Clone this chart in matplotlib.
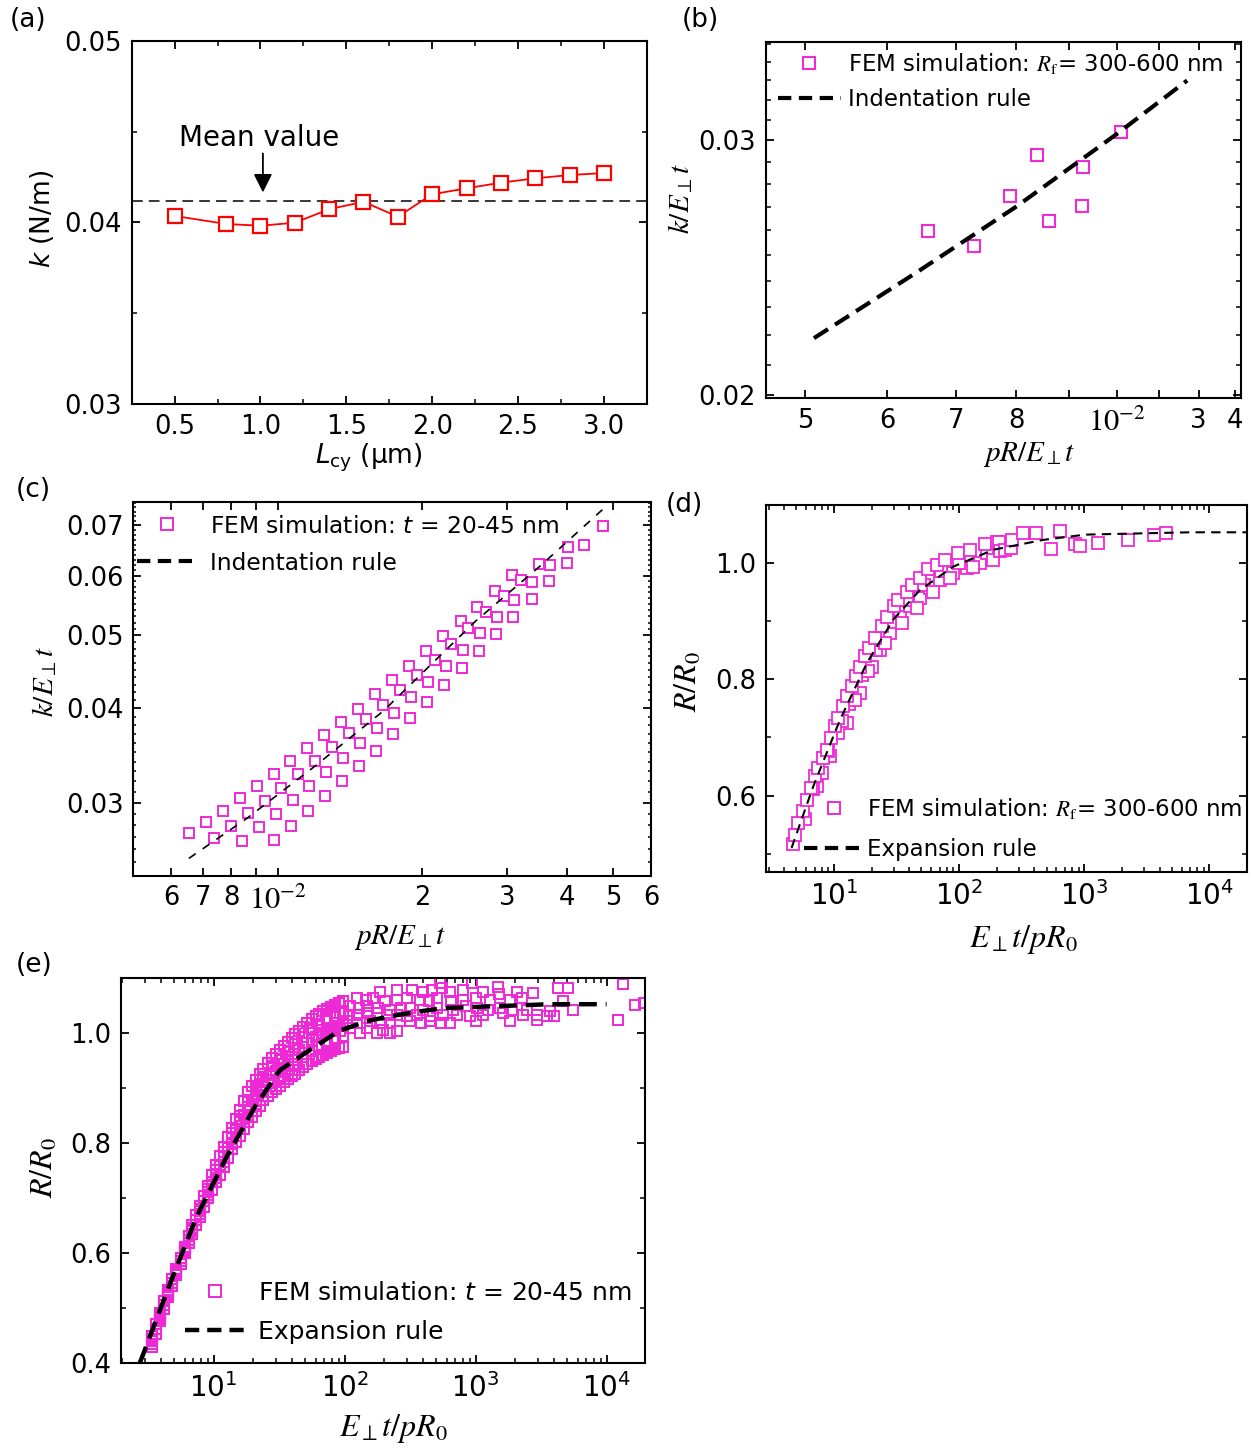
import numpy as np
import matplotlib
matplotlib.use('Agg')
import matplotlib.pyplot as plt
from matplotlib.lines import Line2D
from matplotlib.ticker import FixedLocator, FixedFormatter, NullFormatter, MultipleLocator, LogLocator

plt.rcParams['font.family'] = ['DejaVu Sans']
plt.rcParams['mathtext.fontset'] = 'stix'

MAG = '#ee2ad6'

# ---------------- data ----------------
# (a) spring constant vs L_cy
L_cy = [0.5, 0.8, 1.0, 1.2, 1.4, 1.6, 1.8, 2.0, 2.2, 2.4, 2.6, 2.8, 3.0]
k_a = [0.04036, 0.03992, 0.03982, 0.03999, 0.04073, 0.04114, 0.04032,
       0.04155, 0.04188, 0.04219, 0.04243, 0.04261, 0.04272]

# (b) FEM, R_f = 300-600 nm
b_x = [6.57e-3, 7.28e-3, 7.89e-3, 8.38e-3, 8.60e-3, 9.27e-3, 9.26e-3, 1.009e-2]
b_y = [0.02598, 0.02535, 0.02746, 0.02932, 0.02640, 0.02877, 0.02704, 0.03040]
b_rule_x = [5.1e-3, 6.4e-3, 8.0e-3, 1.0e-2, 1.17e-2]
b_rule_y = [0.0219, 0.0243, 0.0270, 0.0303, 0.0330]

# (c) FEM, t = 20-45 nm (four diagonal rows)
c_xA = [6.54e-3, 7.09e-3, 7.69e-3, 8.34e-3, 9.04e-3, 9.80e-3, 1.062e-2, 1.151e-2, 1.248e-2, 1.353e-2,
        1.466e-2, 1.592e-2, 1.726e-2, 1.875e-2, 2.035e-2, 2.213e-2, 2.403e-2, 2.604e-2, 2.833e-2, 3.076e-2]
c_yA = [0.02731, 0.02828, 0.02927, 0.03040, 0.03156, 0.03278, 0.03403, 0.03540, 0.03683, 0.03839,
        0.03999, 0.04178, 0.04365, 0.04550, 0.04772, 0.04985, 0.05219, 0.05457, 0.05718, 0.06004]
c_xB = [7.37e-3, 7.99e-3, 8.66e-3, 9.39e-3, 1.018e-2, 1.103e-2, 1.196e-2, 1.298e-2, 1.407e-2, 1.526e-2,
        1.654e-2, 1.793e-2, 1.950e-2, 2.128e-2, 2.298e-2, 2.492e-2, 2.719e-2, 2.961e-2, 3.205e-2, 3.497e-2]
c_yB = [0.02693, 0.02793, 0.02909, 0.03018, 0.03140, 0.03273, 0.03407, 0.03555, 0.03710, 0.03871,
        0.04048, 0.04237, 0.04436, 0.04644, 0.04871, 0.05113, 0.05364, 0.05632, 0.05926, 0.06223]
c_xC = [8.42e-3, 9.13e-3, 9.91e-3, 1.074e-2, 1.164e-2, 1.262e-2, 1.370e-2, 1.485e-2, 1.610e-2, 1.745e-2,
        1.895e-2, 2.058e-2, 2.239e-2, 2.426e-2, 2.634e-2, 2.865e-2, 3.111e-2, 3.377e-2, 3.683e-2, 4.019e-2]
c_yC = [0.02671, 0.02781, 0.02901, 0.03021, 0.03153, 0.03293, 0.03440, 0.03597, 0.03767, 0.03950,
        0.04140, 0.04342, 0.04554, 0.04783, 0.05031, 0.05293, 0.05563, 0.05877, 0.06190, 0.06540]
c_xD = [9.84e-3, 1.067e-2, 1.156e-2, 1.254e-2, 1.361e-2, 1.476e-2, 1.600e-2, 1.737e-2, 1.881e-2, 2.045e-2,
        2.224e-2, 2.418e-2, 2.621e-2, 2.846e-2, 3.095e-2, 3.377e-2, 3.673e-2, 4.000e-2, 4.349e-2, 4.746e-2]
c_yD = [0.02677, 0.02796, 0.02921, 0.03061, 0.03200, 0.03353, 0.03517, 0.03694, 0.03883, 0.04077,
        0.04294, 0.04522, 0.04762, 0.05021, 0.05293, 0.05580, 0.05896, 0.06235, 0.06593, 0.06983]
c_rule_x = [6.53e-3, 8.63e-3, 1.20e-2, 1.66e-2, 2.58e-2, 3.54e-2, 4.81e-2]
c_rule_y = [0.0253, 0.0286, 0.0336, 0.0397, 0.0522, 0.0620, 0.0740]

# (d) FEM, R_f = 300-600 nm
d_up_x = [4.73, 4.88, 5.19, 5.61, 6.04, 6.51, 7.05, 7.49, 8.12, 8.74, 9.40, 10.19, 10.83, 11.73, 12.63,
          13.85, 15.0, 16.14, 17.70, 19.17, 21.28, 24.06, 26.38, 30.2, 32.7, 38.1, 41.8, 48.8, 56.9,
          66.3, 77.3, 98.8, 122.5, 161.4, 200]
d_up_y = [0.516, 0.533, 0.553, 0.573, 0.593, 0.613, 0.633, 0.648, 0.665, 0.679, 0.699, 0.719, 0.734,
          0.754, 0.771, 0.788, 0.805, 0.822, 0.840, 0.854, 0.871, 0.891, 0.908, 0.926, 0.937, 0.951,
          0.963, 0.974, 0.989, 0.997, 1.006, 1.017, 1.023, 1.032, 1.036]
d_mid_x = [5.86, 6.8, 7.97, 9.0, 10.83, 11.5, 13.2, 14.72, 16.8, 18.82, 21.5, 25.6, 29, 34.8, 38,
           45.8, 52, 62.3, 72, 84.7, 100, 130, 166]
d_mid_y = [0.559, 0.612, 0.639, 0.677, 0.708, 0.728, 0.758, 0.765, 0.807, 0.814, 0.851, 0.863, 0.898,
           0.897, 0.936, 0.923, 0.963, 0.951, 0.986, 0.974, 1.000, 0.994, 1.017]
d_low_x = [7.27, 9.29, 12.63, 16.14, 20.0, 23.3, 28.1, 33.7, 40.6, 48.8, 58.6, 70.5, 90.1, 115, 147, 182]
d_low_y = [0.616, 0.668, 0.725, 0.777, 0.822, 0.851, 0.880, 0.908, 0.926, 0.940, 0.957, 0.971,
           0.983, 0.992, 1.000, 1.007]
d_tail_x = [188, 210, 213, 233, 259, 264, 327, 413, 541, 635, 847, 918, 1278, 2222, 3631, 4529]
d_tail_y = [1.006, 1.037, 1.020, 1.023, 1.026, 1.040, 1.051, 1.052, 1.024, 1.055, 1.033, 1.029,
            1.035, 1.040, 1.049, 1.052]
d_rule_x = [4.58, 6.83, 11.2, 18.3, 29.8, 48.8, 90, 188, 473, 1020, 7050, 2.0e4]
d_rule_y = [0.510, 0.616, 0.731, 0.828, 0.903, 0.954, 0.994, 1.023, 1.040, 1.049, 1.053, 1.053]

# (e) FEM, t = 20-45 nm  -- rising band, two staggered x grids
e_xa = [3.4, 3.9, 4.5, 5.2, 6.0, 6.9, 7.9, 9.1, 10.5, 12.0, 13.8, 15.9, 18.3, 21.0, 24.0,
        28.0, 32.0, 37.0, 42.0, 48.0, 56.0, 64.0, 74.0, 85.0, 98.0]
e_ya1 = [0.450, 0.492, 0.534, 0.571, 0.612, 0.651, 0.686, 0.723, 0.760, 0.793, 0.828, 0.861, 0.893,
         0.915, 0.936, 0.955, 0.969, 0.985, 0.998, 1.012, 1.026, 1.036, 1.044, 1.051, 1.058]
e_ya2 = [0.445, 0.488, 0.530, 0.568, 0.609, 0.647, 0.681, 0.717, 0.752, 0.784, 0.818, 0.849, 0.879,
         0.901, 0.921, 0.940, 0.953, 0.968, 0.980, 0.993, 1.007, 1.016, 1.024, 1.031, 1.037]
e_ya3 = [0.440, 0.485, 0.527, 0.566, 0.606, 0.644, 0.677, 0.712, 0.745, 0.775, 0.809, 0.838, 0.866,
         0.887, 0.907, 0.924, 0.937, 0.951, 0.963, 0.975, 0.988, 0.997, 1.005, 1.011, 1.017]
e_ya4 = [0.435, 0.481, 0.524, 0.563, 0.603, 0.640, 0.672, 0.706, 0.737, 0.766, 0.799, 0.826, 0.852,
         0.872, 0.893, 0.909, 0.921, 0.934, 0.945, 0.957, 0.968, 0.977, 0.985, 0.991, 0.996]
e_ya5 = [0.430, 0.477, 0.520, 0.561, 0.600, 0.636, 0.667, 0.700, 0.729, 0.757, 0.789, 0.814, 0.838,
         0.858, 0.878, 0.893, 0.905, 0.917, 0.927, 0.938, 0.949, 0.957, 0.965, 0.971, 0.975]
e_xb = [3.65, 4.2, 4.85, 5.6, 6.45, 7.4, 8.5, 9.8, 11.2, 12.9, 14.8, 17.1, 19.6, 22.5, 26.0,
        30.0, 34.5, 39.5, 45.0, 52.0, 60.0, 69.0, 79.0, 91.0]
e_yb1 = [0.471, 0.513, 0.553, 0.592, 0.632, 0.669, 0.705, 0.742, 0.777, 0.811, 0.845, 0.877, 0.904,
         0.926, 0.946, 0.962, 0.977, 0.992, 1.005, 1.019, 1.031, 1.040, 1.048, 1.055]
e_yb2 = [0.463, 0.506, 0.547, 0.586, 0.625, 0.661, 0.695, 0.729, 0.760, 0.792, 0.824, 0.852, 0.877,
         0.897, 0.916, 0.931, 0.944, 0.957, 0.969, 0.982, 0.993, 1.001, 1.008, 1.014]
e_yb3 = [0.454, 0.499, 0.541, 0.581, 0.618, 0.652, 0.684, 0.715, 0.743, 0.773, 0.802, 0.826, 0.848,
         0.868, 0.886, 0.899, 0.911, 0.922, 0.933, 0.944, 0.953, 0.961, 0.968, 0.973]
# (e) plateau cloud and isolated points
e_flat_x = [535, 933, 1492, 4281, 5105,
            186, 250, 325, 400, 462, 550, 638, 800, 1146, 1500, 2058, 2759,
            124, 145, 166, 205, 250, 300, 376, 440, 504, 650, 806, 1000, 1288, 1830, 2247, 4674,
            110, 128, 147, 180, 222, 270, 316, 400, 504, 676, 850, 1019, 1250, 1536, 1900, 2454, 3698, 5572,
            92, 108, 124, 150, 176, 210, 250, 300, 355, 449, 560, 717, 900, 1146, 1628, 2314, 2925, 4000,
            73, 88, 104, 125, 156, 190, 222, 265, 316, 380, 449, 540, 638, 1000, 1830, 2925, 3487,
            54.5, 65, 77.4, 92, 110, 131, 147, 176, 198, 222, 250,
            12290, 13420, 16475, 19200]
e_flat_y = [1.092, 1.092, 1.085, 1.082, 1.082,
            1.076, 1.079, 1.079, 1.076, 1.079, 1.083, 1.076, 1.079, 1.076, 1.072, 1.076, 1.073,
            1.064, 1.061, 1.064, 1.058, 1.061, 1.064, 1.061, 1.058, 1.064, 1.058, 1.061, 1.064, 1.061, 1.061, 1.064, 1.058,
            1.049, 1.046, 1.049, 1.046, 1.043, 1.046, 1.046, 1.043, 1.046, 1.043, 1.049, 1.046, 1.043, 1.046, 1.043, 1.043, 1.040, 1.043,
            1.037, 1.034, 1.034, 1.037, 1.037, 1.034, 1.034, 1.031, 1.034, 1.031, 1.034, 1.034, 1.031, 1.034, 1.037, 1.034, 1.034, 1.031,
            1.022, 1.019, 1.022, 1.019, 1.022, 1.019, 1.019, 1.022, 1.022, 1.019, 1.022, 1.019, 1.019, 1.022, 1.022, 1.025, 1.031,
            1.010, 1.007, 1.010, 1.004, 1.010, 1.001, 1.010, 1.001, 1.007, 1.001, 1.004,
            1.025, 1.089, 1.052, 1.056]
e_rule_x = [2.72, 2.82, 4.65, 7.43, 12.6, 20.7, 32.1, 54.5, 90, 147, 222, 376, 567, 1290, 3700, 1.0e4]
e_rule_y = [0.400, 0.409, 0.545, 0.667, 0.776, 0.867, 0.933, 0.970, 1.004, 1.022, 1.031, 1.040, 1.046,
            1.049, 1.053, 1.053]

TICK = 18.5


def style(ax):
    ax.tick_params(which='both', direction='in', top=True, right=True, labelsize=TICK)
    ax.tick_params(which='major', length=6, width=1.3, pad=7)
    ax.tick_params(which='minor', length=3.5, width=1.1)
    for s in ax.spines.values():
        s.set_linewidth(1.5)


fig = plt.figure(figsize=(12.51, 14.49), dpi=100)

# ---------------- (a) ----------------
ax = fig.add_axes([0.1053, 0.7210, 0.4117, 0.2509])
style(ax)
ax.plot(L_cy, k_a, color='red', lw=1.3, marker='s', ms=10, mfc='white', mec='red', mew=1.6, zorder=3)
ax.axhline(np.mean(k_a), color='k', lw=1.1, ls=(0, (7, 4)))
ax.set_xlim(0.25, 3.25)
ax.set_ylim(0.03, 0.05)
ax.xaxis.set_major_locator(MultipleLocator(0.5))
ax.xaxis.set_minor_locator(MultipleLocator(0.25))
ax.yaxis.set_major_locator(MultipleLocator(0.01))
ax.yaxis.set_minor_locator(MultipleLocator(0.005))
ax.text(0.993, 0.04421, 'Mean value', ha='center', va='baseline', fontsize=20)
ax.annotate('', xy=(1.014, 0.04150), xytext=(1.014, 0.04395),
            arrowprops=dict(arrowstyle='-|>', color='k', lw=1.3, mutation_scale=28))
ax.set_xlabel(r'$L_{\mathrm{cy}}$ (μm)', fontsize=19, math_fontfamily='dejavusans', va='center')
ax.xaxis.set_label_coords(0.46, -0.148)
ax.set_ylabel(r'$k$ (N/m)', fontsize=19, math_fontfamily='dejavusans', va='center')
ax.yaxis.set_label_coords(-0.174, 0.51)

# ---------------- (b) ----------------
ax = fig.add_axes([0.6120, 0.7251, 0.3803, 0.2461])
style(ax)
ax.set_xscale('log')
ax.set_yscale('log')
ax.plot(b_x, b_y, ls='none', marker='s', ms=8.5, mfc='white', mec=MAG, mew=1.5, zorder=2)
ax.plot(b_rule_x, b_rule_y, color='k', lw=3, ls=(0, (4, 2)), zorder=3)
ax.set_xlim(4.58e-3, 1.32e-2)
ax.set_ylim(0.0199, 0.0351)
ax.xaxis.set_major_locator(FixedLocator([5e-3, 6e-3, 7e-3, 8e-3, 9e-3, 1e-2, 1.1e-2, 1.2e-2, 1.3e-2]))
ax.xaxis.set_major_formatter(FixedFormatter(['5', '6', '7', '8', '', r'$10^{-2}$', '', '3', '4']))
ax.xaxis.set_minor_locator(FixedLocator([]))
ax.yaxis.set_major_locator(FixedLocator([0.02, 0.03]))
ax.yaxis.set_major_formatter(FixedFormatter(['0.02', '0.03']))
ax.yaxis.set_minor_locator(FixedLocator([0.021, 0.022, 0.023, 0.024, 0.025, 0.026, 0.027, 0.028, 0.029,
                                         0.031, 0.032, 0.033, 0.034, 0.035]))
ax.yaxis.set_minor_formatter(NullFormatter())
for t in ax.get_xticklabels():
    if '10' in t.get_text():
        t.set_fontsize(22)
ax.set_xlabel(r'$pR/E_{\perp}t$', fontsize=21, va='center')
ax.xaxis.set_label_coords(0.555, -0.158)
ax.set_ylabel(r'$k/E_{\perp}t$', fontsize=21, va='center')
ax.yaxis.set_label_coords(-0.178, 0.56)
hb = [Line2D([], [], ls='none', marker='s', ms=8.5, mfc='white', mec=MAG, mew=1.5),
      Line2D([], [], color='k', lw=3, ls=(0, (3.2, 1.8)))]
ax.legend(hb, [r'FEM simulation: $R_{\rm f}$= 300-600 nm', 'Indentation rule'], loc='upper left',
          bbox_to_anchor=(0.026, 0.975), frameon=False, fontsize=16.5, handlelength=2.75,
          handletextpad=0.3, labelspacing=0.56, borderpad=0, borderaxespad=0)

# ---------------- (c) ----------------
ax = fig.add_axes([0.1065, 0.3957, 0.4142, 0.2577])
style(ax)
ax.set_xscale('log')
ax.set_yscale('log')
for cx, cy in [(c_xA, c_yA), (c_xB, c_yB), (c_xC, c_yC), (c_xD, c_yD)]:
    ax.plot(cx, cy, ls='none', marker='s', ms=7.3, mfc='white', mec=MAG, mew=1.4, zorder=2)
ax.plot(c_rule_x, c_rule_y, color='k', lw=1.2, ls=(0, (5, 5)), zorder=3)
ax.set_xlim(5e-3, 6e-2)
ax.set_ylim(0.0240, 0.0751)
ax.xaxis.set_major_locator(FixedLocator([6e-3, 7e-3, 8e-3, 9e-3, 1e-2, 2e-2, 3e-2, 4e-2, 5e-2, 6e-2]))
ax.xaxis.set_major_formatter(FixedFormatter(['6', '7', '8', '', r'$10^{-2}$', '2', '3', '4', '5', '6']))
ax.xaxis.set_minor_locator(FixedLocator([]))
ax.yaxis.set_major_locator(FixedLocator([0.03, 0.04, 0.05, 0.06, 0.07]))
ax.yaxis.set_major_formatter(FixedFormatter(['0.03', '0.04', '0.05', '0.06', '0.07']))
ax.yaxis.set_minor_locator(FixedLocator(np.arange(0.024, 0.0755, 0.001)))
ax.yaxis.set_minor_formatter(NullFormatter())
ax.tick_params(axis='y', which='minor', length=2.5)
for t in ax.get_xticklabels():
    if '10' in t.get_text():
        t.set_fontsize(22)
ax.set_xlabel(r'$pR/E_{\perp}t$', fontsize=21, va='center')
ax.xaxis.set_label_coords(0.515, -0.165)
ax.set_ylabel(r'$k/E_{\perp}t$', fontsize=21, va='center')
ax.yaxis.set_label_coords(-0.17, 0.52)
hc = [Line2D([], [], ls='none', marker='s', ms=8, mfc='white', mec=MAG, mew=1.4),
      Line2D([], [], color='k', lw=3, ls=(0, (3.2, 1.8)))]
leg = ax.legend(hc, [r'FEM simulation: $t$ = 20-45 nm', 'Indentation rule'], loc='upper left',
                bbox_to_anchor=(0.008, 0.967), frameon=False, fontsize=16.8, handlelength=2.5,
                handletextpad=0.6, labelspacing=0.6, borderpad=0, borderaxespad=0)
for t in leg.get_texts():
    t.set_math_fontfamily('dejavusans')

# ---------------- (d) ----------------
ax = fig.add_axes([0.6120, 0.3984, 0.3848, 0.2531])
style(ax)
ax.set_xscale('log')
for dx, dy in [(d_low_x, d_low_y), (d_mid_x, d_mid_y), (d_up_x, d_up_y), (d_tail_x, d_tail_y)]:
    ax.plot(dx, dy, ls='none', marker='s', ms=8.3, mfc='white', mec=MAG, mew=1.3, zorder=2)
ax.plot(d_rule_x, d_rule_y, color='k', lw=1.5, ls=(0, (4.5, 3)), zorder=3)
ax.set_xlim(2.84, 2.0e4)
ax.set_ylim(0.469, 1.10)
ax.xaxis.set_major_locator(FixedLocator([10, 100, 1000, 10000]))
ax.xaxis.set_major_formatter(FixedFormatter([r'$\mathregular{10^{1}}$', r'$\mathregular{10^{2}}$',
                                             r'$\mathregular{10^{3}}$', r'$\mathregular{10^{4}}$']))
ax.xaxis.set_minor_locator(LogLocator(base=10, subs=np.arange(2, 10), numticks=20))
ax.xaxis.set_minor_formatter(NullFormatter())
ax.yaxis.set_major_locator(MultipleLocator(0.2))
ax.yaxis.set_minor_locator(MultipleLocator(0.1))
ax.tick_params(axis='x', which='major', labelsize=20)
ax.set_xlabel(r'$E_{\perp}t/pR_0$', fontsize=23, va='center')
ax.xaxis.set_label_coords(0.535, -0.185)
ax.set_ylabel(r'$R/R_0$', fontsize=23, va='center')
ax.yaxis.set_label_coords(-0.16, 0.52)
hd = [Line2D([], [], ls='none', marker='s', ms=8.5, mfc='white', mec=MAG, mew=1.4),
      Line2D([], [], color='k', lw=3, ls=(0, (3.2, 1.8)))]
ax.legend(hd, [r'FEM simulation: $R_{\rm f}$= 300-600 nm', 'Expansion rule'], loc='lower right',
          bbox_to_anchor=(0.99, 0.03), frameon=False, fontsize=16.5, handlelength=2.6,
          handletextpad=0.15, labelspacing=0.72, borderpad=0, borderaxespad=0)

# ---------------- (e) ----------------
ax = fig.add_axes([0.0964, 0.0591, 0.4193, 0.2657])
style(ax)
ax.set_xscale('log')
for ex, ey in [(e_xa, e_ya5), (e_xb, e_yb3), (e_xa, e_ya4), (e_xb, e_yb2), (e_xa, e_ya3),
               (e_xa, e_ya2), (e_xb, e_yb1), (e_xa, e_ya1)]:
    ax.plot(ex, ey, ls='none', marker='s', ms=7.6, mfc='none', mec=MAG, mew=1.5, zorder=2)
ax.plot(e_flat_x, e_flat_y, ls='none', marker='s', ms=7.6, mfc='none', mec=MAG, mew=1.4, zorder=2)
ax.plot(e_rule_x, e_rule_y, color='k', lw=3.2, ls=(0, (4, 2)), zorder=3)
ax.set_xlim(1.95, 1.97e4)
ax.set_ylim(0.4, 1.10)
ax.xaxis.set_major_locator(FixedLocator([10, 100, 1000, 10000]))
ax.xaxis.set_major_formatter(FixedFormatter([r'$\mathregular{10^{1}}$', r'$\mathregular{10^{2}}$',
                                             r'$\mathregular{10^{3}}$', r'$\mathregular{10^{4}}$']))
ax.xaxis.set_minor_locator(LogLocator(base=10, subs=np.arange(2, 10), numticks=20))
ax.xaxis.set_minor_formatter(NullFormatter())
ax.yaxis.set_major_locator(MultipleLocator(0.2))
ax.yaxis.set_minor_locator(MultipleLocator(0.1))
ax.tick_params(axis='x', which='major', labelsize=20)
ax.set_xlabel(r'$E_{\perp}t/pR_0$', fontsize=23, va='center')
ax.xaxis.set_label_coords(0.52, -0.17)
ax.set_ylabel(r'$R/R_0$', fontsize=23, va='center')
ax.yaxis.set_label_coords(-0.145, 0.51)
he = [Line2D([], [], ls='none', marker='s', ms=9, mfc='white', mec=MAG, mew=1.4),
      Line2D([], [], color='k', lw=3.2, ls=(0, (3.2, 1.8)))]
leg = ax.legend(he, [r'FEM simulation: $t$ = 20-45 nm', 'Expansion rule'], loc='lower right',
                bbox_to_anchor=(0.975, 0.05), frameon=False, fontsize=18, handlelength=2.4,
                handletextpad=0.55, labelspacing=0.62, borderpad=0, borderaxespad=0)
for t in leg.get_texts():
    t.set_math_fontfamily('dejavusans')

# panel letters
for lab, px, py in [('(a)', 10, 20), ('(b)', 682, 20), ('(c)', 16, 490), ('(d)', 666, 505), ('(e)', 16, 965)]:
    fig.text(px / 1251, 1 - py / 1449, lab, ha='left', va='center', fontsize=19)

fig.savefig('out.png', dpi=100)
